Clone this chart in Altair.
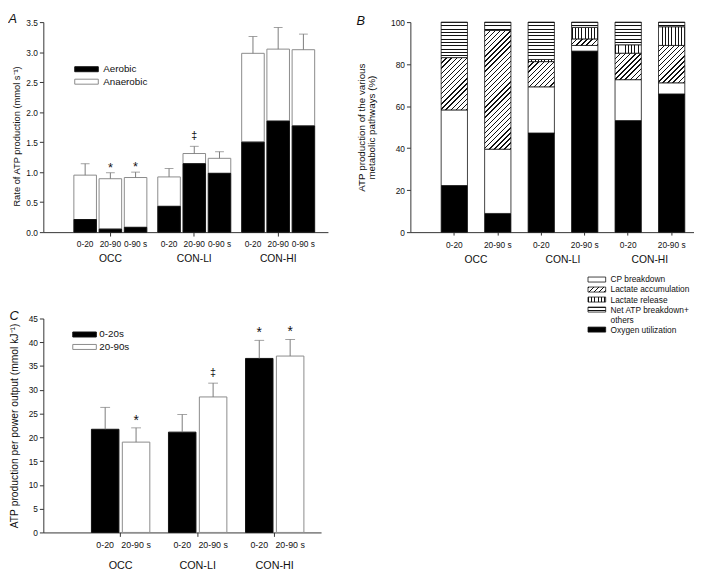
import altair as alt
import pandas as pd

FONT = "Liberation Sans"
TXT = "#111111"
AXC = "#333333"
ERRC = "#7a7a7a"
INK = "#111111"
GREY_EDGE = "#8a8a8a"

groups = ["OCC", "CON-LI", "CON-HI"]

# ---------------- Panel A data ----------------
a_periods = ["0-20", "20-90", "0-90 s"]
a_group = ["OCC", "OCC", "OCC", "CON-LI", "CON-LI", "CON-LI", "CON-HI", "CON-HI", "CON-HI"]
a_period = ["0-20", "20-90", "0-90 s", "0-20", "20-90", "0-90 s", "0-20", "20-90", "0-90 s"]
a_aerobic = [0.21, 0.05, 0.08, 0.43, 1.14, 0.98, 1.50, 1.85, 1.77]
a_total = [0.95, 0.89, 0.91, 0.92, 1.31, 1.23, 2.98, 3.05, 3.04]
a_sd_top = [1.14, 0.99, 1.00, 1.06, 1.43, 1.34, 3.26, 3.41, 3.30]
a_sig = ["", "*", "*", "", "‡", "", "", "", ""]
a_legend = ["Aerobic", "Anaerobic"]
a_yticks = [0.0, 0.5, 1.0, 1.5, 2.0, 2.5, 3.0, 3.5]

# ---------------- Panel B data ----------------
b_group = ["OCC", "OCC", "CON-LI", "CON-LI", "CON-HI", "CON-HI"]
b_period = ["0-20", "20-90 s", "0-20", "20-90 s", "0-20", "20-90 s"]
b_pathways = ["Oxygen utilization", "CP breakdown", "Lactate accumulation",
              "Lactate release", "Net ATP breakdown+ others"]
b_oxygen = [22.2, 8.9, 47.2, 86.2, 53.1, 65.8]
b_cp = [36.0, 30.6, 22.0, 2.7, 19.5, 5.3]
b_lac_acc = [24.9, 56.5, 12.0, 3.1, 12.6, 17.8]
b_lac_rel = [0.0, 0.0, 1.0, 5.5, 4.0, 8.9]
b_net_atp = [16.9, 4.0, 17.8, 2.5, 10.8, 2.2]
b_legend = ["CP breakdown", "Lactate accumulation", "Lactate release",
            "Net ATP breakdown+", "others", "Oxygen utilization"]
b_legend_kind = ["CP breakdown", "Lactate accumulation", "Lactate release",
                 "Net ATP breakdown+ others", "", "Oxygen utilization"]
b_yticks = [0, 20, 40, 60, 80, 100]

# ---------------- Panel C data ----------------
c_periods = ["0-20", "20-90 s"]
c_group = ["OCC", "OCC", "CON-LI", "CON-LI", "CON-HI", "CON-HI"]
c_period = ["0-20", "20-90 s", "0-20", "20-90 s", "0-20", "20-90 s"]
c_value = [21.7, 19.0, 21.1, 28.5, 36.6, 37.1]
c_sd_top = [26.3, 22.0, 24.8, 31.4, 40.4, 40.6]
c_sig = ["", "*", "", "‡", "*", "*"]
c_legend = ["0-20s", "20-90s"]
c_yticks = [0, 5, 10, 15, 20, 25, 30, 35, 40, 45]

# ---------------- sizes ----------------
AW, AH = 290, 214
BW, BH = 289, 214
CW, CH = 283, 218


def legend_scale(first_center, step, n, pad_in, pad_out, domain):
    r0 = first_center - pad_out * step - step * (1 - pad_in) / 2
    r1 = r0 + step * (n - pad_in + 2 * pad_out)
    return alt.Scale(type="band", domain=domain, range=[r0, r1],
                     paddingInner=pad_in, paddingOuter=pad_out)


def stripes(length, period, lw, along_x):
    stops = []
    pos = 0.0
    while pos < length:
        a = pos / length
        b = min((pos + lw) / length, 1.0)
        stops += [{"offset": a, "color": "white"}, {"offset": a, "color": INK},
                  {"offset": b, "color": INK}, {"offset": b, "color": "white"}]
        pos += period
    stops.append({"offset": 1.0, "color": "white"})
    if along_x:
        return {"gradient": "linear", "x1": 0, "y1": 0, "x2": 1, "y2": 0, "stops": stops}
    return {"gradient": "linear", "x1": 0, "y1": 0, "x2": 0, "y2": 1, "stops": stops}


def diagonal(w, h, spacing=5.2, lw=1.4):
    span = w + h
    m = span * w / (w * w + h * h)
    stops = []
    c = 0.0
    while c < span:
        a = c / span
        b = min((c + lw) / span, 1.0)
        stops += [{"offset": a, "color": "white"}, {"offset": a, "color": INK},
                  {"offset": b, "color": INK}, {"offset": b, "color": "white"}]
        c += spacing
    stops.append({"offset": 1.0, "color": "white"})
    return {"gradient": "linear", "x1": 0, "y1": 0, "x2": m, "y2": m * h / w, "stops": stops}


def pattern(name, w, h):
    if name == "Oxygen utilization":
        return "black"
    if name == "CP breakdown":
        return "white"
    if name == "Lactate accumulation":
        return diagonal(w, h)
    if name == "Lactate release":
        return stripes(w, 3.3, 1.0, True)
    return stripes(h, 3.4, 1.0, False)


# =============== Panel A ===============
a_df = pd.DataFrame(dict(group=a_group, period=a_period, aerobic=a_aerobic,
                         total=a_total, top=a_sd_top, sig=a_sig))
a_long = pd.DataFrame(dict(
    group=a_group + a_group, period=a_period + a_period,
    part=["Anaerobic"] * 9 + ["Aerobic"] * 9,
    lo=a_aerobic + [0.0] * 9, hi=a_total + a_aerobic))

a_fill = alt.Scale(domain=a_legend, range=["black", "white"])
a_stroke = alt.Scale(domain=a_legend, range=[INK, GREY_EDGE])
a_x = alt.X("group:N", sort=groups, title=None,
            scale=alt.Scale(type="band", domain=groups, paddingInner=0.123,
                            paddingOuter=0.2575, align=0.70),
            axis=alt.Axis(labelAngle=0, labelFontSize=10.5, labelPadding=18, tickSize=4))
a_xo = alt.XOffset("period:N", sort=a_periods,
                   scale=alt.Scale(type="band", domain=a_periods, paddingInner=0.105,
                                   paddingOuter=0.0115))
a_ys = alt.Scale(domain=[0, 3.5], nice=False)
a_yaxis = alt.Axis(title="Rate of ATP production (mmol s⁻¹)", values=a_yticks,
                   format=".1f", titleFontSize=9.5, titlePadding=4.7, titleY=116)

a_bars = alt.Chart(a_long).mark_bar(strokeWidth=1).encode(
    x=a_x, xOffset=a_xo,
    y=alt.Y("lo:Q", scale=a_ys, axis=a_yaxis),
    y2="hi:Q",
    fill=alt.Fill("part:N", scale=a_fill, legend=None),
    stroke=alt.Stroke("part:N", scale=a_stroke, legend=None),
)
a_rule = alt.Chart(a_df).mark_rule(color=ERRC, strokeWidth=1).encode(
    x=a_x, xOffset=a_xo, y=alt.Y("total:Q", scale=a_ys, axis=a_yaxis), y2="top:Q")
a_cap = alt.Chart(a_df).mark_tick(color=ERRC, thickness=1, size=9).encode(
    x=a_x, xOffset=a_xo, y=alt.Y("top:Q", scale=a_ys, axis=a_yaxis))
a_star = alt.Chart(a_df).transform_filter("datum.sig == '*'").mark_text(
    fontSize=13, baseline="alphabetic", dy=-1).encode(
    x=a_x, xOffset=a_xo, y=alt.Y("top:Q", scale=a_ys, axis=a_yaxis), text="sig:N")
a_dag = alt.Chart(a_df).transform_filter("datum.sig == '‡'").mark_text(
    fontSize=11, baseline="alphabetic", dy=-7).encode(
    x=a_x, xOffset=a_xo, y=alt.Y("top:Q", scale=a_ys, axis=a_yaxis), text="sig:N")
a_sub = alt.Chart(a_df).mark_text(fontSize=8.5, baseline="middle").encode(
    x=a_x, xOffset=a_xo, y=alt.value(AH + 12), text="period:N")

a_leg_df = pd.DataFrame({"part": a_legend})
a_leg_y = alt.Y("part:N", sort=a_legend, axis=None,
                scale=legend_scale(48.0, 12.7, 2, 0.6, 0.3, a_legend))
a_leg = alt.layer(
    alt.Chart(a_leg_df).mark_rect(strokeWidth=1).encode(
        x=alt.value(32), x2=alt.value(56), y=a_leg_y,
        fill=alt.Fill("part:N", scale=a_fill, legend=None),
        stroke=alt.Stroke("part:N", scale=a_stroke, legend=None)),
    alt.Chart(a_leg_df).mark_text(align="left", baseline="middle", fontSize=10).encode(
        x=alt.value(61), y=a_leg_y, text="part:N"),
)

panel_a = alt.layer(
    alt.layer(a_bars, a_rule, a_cap, a_star, a_dag, a_sub), a_leg
).resolve_scale(y="independent").properties(
    width=AW, height=AH,
    title=alt.TitleParams("A", anchor="start", frame="bounds", dx=-3, offset=-8,
                          fontSize=13, fontStyle="italic", fontWeight="normal"))

# =============== Panel B ===============
b_step = BW / (6 - 0.395 + 2 * 0.46)
BAR_W = b_step * (1 - 0.395)
PX = BH / 100.0
b_keys = [g + "|" + p for g, p in zip(b_group, b_period)]
b_rows = []
for i in range(6):
    vals = [b_oxygen[i], b_cp[i], b_lac_acc[i], b_lac_rel[i], b_net_atp[i]]
    lo = 0.0
    for name, v in zip(b_pathways, vals):
        if v > 0:
            b_rows.append({"key": b_keys[i], "pathway": name, "lo": lo, "hi": lo + v,
                           "fill": pattern(name, BAR_W, v * PX)})
        lo += v

b_x = alt.X("key:N", sort=b_keys, title=None,
            scale=alt.Scale(type="band", domain=b_keys, paddingInner=0.395,
                            paddingOuter=0.46, align=0.77),
            axis=alt.Axis(labelAngle=0, labelExpr="split(datum.label, '|')[1]",
                          labelPadding=5.7, tickSize=3, labelFontSize=8.5))
b_bars = alt.Chart(alt.Data(values=b_rows)).mark_bar(stroke=INK, strokeWidth=0.8).encode(
    x=b_x,
    y=alt.Y("lo:Q", scale=alt.Scale(domain=[0, 100], nice=False),
            axis=alt.Axis(title=["ATP production of the various", "metabolic pathways (%)"],
                          values=b_yticks, format="d", titleFontSize=10, titleLineHeight=10,
                          titlePadding=14.8)),
    y2="hi:Q",
    fill=alt.Fill("fill:N", scale=None, legend=None),
)
b_grp = alt.Chart(pd.DataFrame({"group": groups})).mark_text(fontSize=10.5, baseline="middle").encode(
    x=alt.X("group:N", sort=groups, axis=None,
            scale=alt.Scale(type="band", domain=groups, paddingInner=0,
                            paddingOuter=0.131, align=0.97)),
    y=alt.value(BH + 28.7), text="group:N")

LEG_W, LEG_H = 18, 5.1
b_leg_rows = []
for lab, kind in zip(b_legend, b_legend_kind):
    row = {"label": lab, "has": kind != ""}
    if kind:
        row["fill"] = pattern(kind, LEG_W, LEG_H)
    b_leg_rows.append(row)
b_leg_y = alt.Y("label:N", sort=b_legend, axis=None,
                scale=legend_scale(262.3, 10.2, 6, 0.5, 0.25, b_legend))
b_leg = alt.layer(
    alt.Chart(alt.Data(values=b_leg_rows)).transform_filter("datum.has").mark_rect(
        stroke=INK, strokeWidth=0.8).encode(
        x=alt.value(181), x2=alt.value(199), y=b_leg_y,
        fill=alt.Fill("fill:N", scale=None, legend=None)),
    alt.Chart(alt.Data(values=b_leg_rows)).mark_text(align="left", baseline="middle", fontSize=8.5).encode(
        x=alt.value(204), y=b_leg_y, text="label:N"),
)

panel_b = alt.layer(b_bars, b_grp, b_leg).resolve_scale(x="independent", y="independent").properties(
    width=BW, height=BH,
    title=alt.TitleParams("B", anchor="start", frame="bounds", offset=-9.5,
                          fontSize=13, fontStyle="italic", fontWeight="normal"))

# =============== Panel C ===============
c_df = pd.DataFrame(dict(group=c_group, period=c_period, value=c_value, top=c_sd_top, sig=c_sig))
c_fill = alt.Scale(domain=c_periods, range=["black", "white"])
c_stroke = alt.Scale(domain=c_periods, range=[INK, GREY_EDGE])
c_x = alt.X("group:N", sort=groups, title=None,
            scale=alt.Scale(type="band", domain=groups, paddingInner=0.242,
                            paddingOuter=0.4235, align=0.737),
            axis=alt.Axis(labelAngle=0, labelFontSize=11, labelPadding=23.7, tickSize=4))
c_xo = alt.XOffset("period:N", sort=c_periods,
                   scale=alt.Scale(type="band", domain=c_periods, paddingInner=0.11, paddingOuter=0))
c_ys = alt.Scale(domain=[0, 45], nice=False)
c_yaxis = alt.Axis(title="ATP production per power output (mmol kJ⁻¹)", values=c_yticks,
                   titleFontSize=10.5, titlePadding=9)

c_bars = alt.Chart(c_df).mark_bar(strokeWidth=1).encode(
    x=c_x, xOffset=c_xo,
    y=alt.Y("value:Q", scale=c_ys, axis=c_yaxis),
    fill=alt.Fill("period:N", scale=c_fill, legend=None),
    stroke=alt.Stroke("period:N", scale=c_stroke, legend=None),
)
c_rule = alt.Chart(c_df).mark_rule(color=ERRC, strokeWidth=1).encode(
    x=c_x, xOffset=c_xo, y=alt.Y("value:Q", scale=c_ys, axis=c_yaxis), y2="top:Q")
c_cap = alt.Chart(c_df).mark_tick(color=ERRC, thickness=1, size=10).encode(
    x=c_x, xOffset=c_xo, y=alt.Y("top:Q", scale=c_ys, axis=c_yaxis))
c_star = alt.Chart(c_df).transform_filter("datum.sig == '*'").mark_text(
    fontSize=14, baseline="alphabetic", dy=-3).encode(
    x=c_x, xOffset=c_xo, y=alt.Y("top:Q", scale=c_ys, axis=c_yaxis), text="sig:N")
c_dag = alt.Chart(c_df).transform_filter("datum.sig == '‡'").mark_text(
    fontSize=11, baseline="alphabetic", dy=-7.7).encode(
    x=c_x, xOffset=c_xo, y=alt.Y("top:Q", scale=c_ys, axis=c_yaxis), text="sig:N")
c_sub = alt.Chart(c_df).mark_text(fontSize=9, baseline="middle").encode(
    x=c_x, xOffset=c_xo, y=alt.value(CH + 12.7), text="period:N")

c_leg_df = pd.DataFrame({"label": c_legend, "period": c_periods})
c_leg_y = alt.Y("label:N", sort=c_legend, axis=None,
                scale=legend_scale(16.3, 12.7, 2, 0.6, 0.3, c_legend))
c_leg = alt.layer(
    alt.Chart(c_leg_df).mark_rect(strokeWidth=1).encode(
        x=alt.value(30), x2=alt.value(54), y=c_leg_y,
        fill=alt.Fill("period:N", scale=c_fill, legend=None),
        stroke=alt.Stroke("period:N", scale=c_stroke, legend=None)),
    alt.Chart(c_leg_df).mark_text(align="left", baseline="middle", fontSize=10).encode(
        x=alt.value(57), y=c_leg_y, text="label:N"),
)

panel_c = alt.layer(
    alt.layer(c_bars, c_rule, c_cap, c_star, c_dag, c_sub), c_leg
).resolve_scale(y="independent").properties(
    width=CW, height=CH,
    title=alt.TitleParams("C", anchor="start", frame="bounds", offset=-8.3,
                          fontSize=13, fontStyle="italic", fontWeight="normal"))

left_col = alt.vconcat(panel_a, panel_c, spacing=46).resolve_scale(
    x="independent", xOffset="independent", y="independent",
    fill="independent", stroke="independent")

chart = alt.hconcat(left_col, panel_b, spacing=29).resolve_scale(
    x="independent", y="independent", fill="independent", stroke="independent"
).properties(
    padding={"left": 0, "top": 0, "right": 0, "bottom": 0}
).configure_view(
    strokeWidth=0
).configure_axis(
    labelFont=FONT, titleFont=FONT, labelFontSize=8.5, labelColor=TXT, titleColor=TXT,
    titleFontWeight="normal", domainColor=AXC, tickColor=AXC, domainWidth=1, tickWidth=1,
    tickSize=4, labelPadding=2, grid=False
).configure_title(
    font=FONT, color=TXT
).configure_text(
    font=FONT, color=TXT
)

chart.save("out.html", embed_options={"renderer": "svg", "actions": False})
